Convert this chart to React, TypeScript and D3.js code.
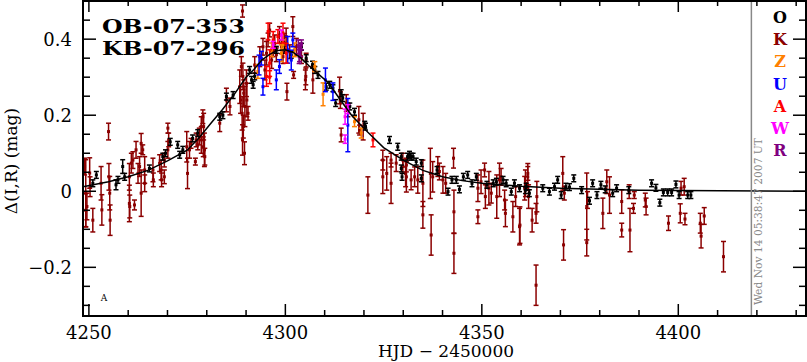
import { useMemo } from 'react';
import * as d3 from 'd3';

// [HJD - 2450000, delta mag, error]
const obsK: number[][] = [
  [4248.9, 0.065, 0.022], [4249.2, -0.005, 0.088], [4249.5, -0.04, 0.035], [4250.2, 0.048, 0.04],
  [4250.3, 0.012, 0.026], [4251, -0.076, 0.031], [4253.1, 0.021, 0.044], [4253.3, -0.049, 0.04],
  [4255, 0.157, 0.022], [4255.1, 0.038, 0.035], [4255.3, -0.005, 0.044], [4255.4, -0.076, 0.04],
  [4249.2, -0.05, 0.044], [4260.4, -0.04, 0.03],
  [4260.3, 0.038, 0.035], [4260.3, -0.032, 0.048], [4260.8, 0.074, 0.026], [4261.2, 0.082, 0.022],
  [4261.6, -0.036, 0.013], [4262, 0.109, 0.022], [4262.5, 0.047, 0.026], [4262.9, 0.065, 0.026],
  [4263.3, 0.126, 0.026], [4263.3, -0.005, 0.061], [4263.7, 0.109, 0.013], [4264.2, 0.056, 0.035],
  [4264.2, 0.021, 0.022], [4266.3, 0.056, 0.031], [4266.4, 0.03, 0.018], [4268, 0.074, 0.022],
  [4268.4, 0.056, 0.026], [4268.5, 0.03, 0.018], [4269.2, 0.082, 0.018], [4269.2, 0.038, 0.018],
  [4270.1, 0.166, 0.013], [4270.1, 0.109, 0.022], [4270.3, 0.135, 0.018], [4274.9, 0.117, 0.04],
  [4275.1, 0.047, 0.04], [4275.6, 0.109, 0.022], [4276, 0.126, 0.013], [4277.1, 0.078, 0.009],
  [4277.3, 0.135, 0.018], [4277.7, 0.122, 0.013], [4278.1, 0.144, 0.022], [4278.6, 0.17, 0.026],
  [4279, 0.196, 0.018], [4279.4, 0.109, 0.044], [4278.6, 0.135, 0.035], [4279.1, 0.117, 0.026],
  [4279.2, 0.17, 0.035], [4279.5, 0.091, 0.022], [4283.3, 0.179, 0.022], [4285, 0.24, 0.031],
  [4285.9, 0.223, 0.022], [4288.4, 0.275, 0.044], [4288.6, 0.24, 0.035], [4288.8, 0.328, 0.026],
  [4289, 0.205, 0.044], [4289.2, 0.302, 0.035], [4289.4, 0.258, 0.035], [4289.1, 0.135, 0.04],
  [4289.7, 0.223, 0.053], [4290.1, 0.284, 0.035], [4290.2, 0.24, 0.044], [4290.5, 0.205, 0.018],
  [4289.1, 0.474, 0.016], [4289.3, 0.17, 0.03], [4289.6, 0.1, 0.03],
  [4292.2, 0.332, 0.022], [4293.5, 0.354, 0.026], [4294.3, 0.38, 0.022], [4294.8, 0.319, 0.026],
  [4295.2, 0.363, 0.031], [4295.6, 0.398, 0.018], [4296, 0.424, 0.018], [4296.5, 0.345, 0.022],
  [4296.9, 0.372, 0.018], [4297.3, 0.389, 0.022], [4297.7, 0.359, 0.018], [4298.5, 0.411, 0.022],
  [4299, 0.38, 0.018], [4299.4, 0.354, 0.018], [4299.8, 0.389, 0.026], [4300.2, 0.407, 0.022],
  [4300.4, 0.262, 0.022], [4301.1, 0.367, 0.018], [4301.9, 0.433, 0.026], [4302.1, 0.306, 0.009],
  [4302.8, 0.38, 0.022], [4305.2, 0.302, 0.022], [4305.3, 0.345, 0.018], [4304.1, 0.354, 0.018],
  [4305.1, 0.293, 0.026], [4307, 0.293, 0.035], [4313.8, 0.265, 0.035], [4314, 0.24, 0.022],
  [4314.2, 0.148, 0.018], [4315.5, 0.232, 0.022], [4315.9, 0.214, 0.018], [4318.7, 0.188, 0.035],
  [4318.9, 0.161, 0.013], [4319.8, 0.17, 0.035], [4324.8, 0.082, 0.026], [4324.8, 0.038, 0.044],
  [4325.8, 0.047, 0.044], [4326.9, 0.021, 0.053], [4326.9, 0.082, 0.018], [4328.2, 0.074, 0.022],
  [4321, -0.01, 0.048], [4329.9, 0.065, 0.018], [4330.8, 0.038, 0.04],
  [4329.9, 0.082, 0.018], [4330.6, 0.047, 0.035], [4330.8, 0.069, 0.018], [4332, 0.03, 0.026],
  [4332.9, 0.038, 0.026], [4333.7, 0.03, 0.035], [4335, -0.062, 0.035], [4335, 0.021, 0.061],
  [4336.9, 0.047, 0.066], [4337.1, -0.115, 0.053], [4337.5, 0.038, 0.04], [4338.8, 0.065, 0.026],
  [4339.2, 0.052, 0.022], [4340.1, 0.03, 0.035], [4340.8, 0.021, 0.026], [4342.8, 0.087, 0.026],
  [4342.9, -0.054, 0.057], [4342.9, -0.163, 0.053], [4349, 0.008, 0.035], [4349, -0.067, 0.018],
  [4349.8, 0.025, 0.031], [4350.7, 0.056, 0.018], [4350.9, -0.014, 0.031], [4351.8, 0.008, 0.044],
  [4352.4, -0.005, 0.026], [4353.8, -0.014, 0.057], [4354.5, 0.03, 0.044], [4354.9, 0.038, 0.022],
  [4355.8, -0.023, 0.026], [4356, -0.058, 0.035], [4357.9, -0.067, 0.04], [4358.6, -0.014, 0.026],
  [4359.7, -0.089, 0.048], [4361.1, 0.021, 0.035], [4361.7, 0.038, 0.035], [4361.9, -0.014, 0.031],
  [4359.6, -0.093, 0.048], [4360.9, 0.008, 0.031], [4361.7, 0.047, 0.018], [4362.8, -0.076, 0.031],
  [4363.8, -0.058, 0.026], [4363.8, -0.247, 0.053], [4364, -0.014, 0.04], [4370.6, 0.047, 0.044],
  [4370.8, -0.141, 0.04], [4371, -0.005, 0.018], [4376.7, -0.04, 0.088], [4376.7, -0.135, 0.035],
  [4376.9, -0.023, 0.022], [4380.8, -0.058, 0.04], [4381.8, 0.025, 0.031], [4382.5, -0.01, 0.048],
  [4385.6, -0.027, 0.031], [4385.6, -0.102, 0.018], [4387.7, -0.102, 0.057], [4387.5, -0.001, 0.018],
  [4388.6, -0.045, 0.013], [4388.8, -0.01, 0.009], [4391.6, -0.023, 0.018], [4391.8, -0.04, 0.022],
  [4397.5, -0.084, 0.019], [4400.5, -0.058, 0.025], [4400.7, 0.008, 0.018], [4401.5, 0.012, 0.022],
  [4401.7, -0.073, 0.015], [4405.6, -0.084, 0.026], [4405.8, -0.118, 0.031], [4406.6, -0.065, 0.022],
  [4411.5, -0.172, 0.04],
];

const obsO: number[][] = [
  [4251.9, 0.043, 0.009], [4251, 0.021, 0.009], [4256.9, 0.017, 0.013], [4257.4, 0.03, 0.009],
  [4258.6, 0.065, 0.018], [4259.1, 0.038, 0.009], [4265.4, 0.06, 0.009], [4268.8, 0.091, 0.009],
  [4269.5, 0.1, 0.009], [4270.7, 0.13, 0.009], [4272.6, 0.122, 0.009], [4273.1, 0.096, 0.009],
  [4273.9, 0.109, 0.009], [4276.4, 0.139, 0.009], [4277.7, 0.153, 0.009], [4285, 0.249, 0.009],
  [4284.1, 0.2, 0.009], [4283.3, 0.196, 0.009], [4286.7, 0.253, 0.009], [4290.9, 0.319, 0.009],
  [4291.4, 0.293, 0.009], [4291.8, 0.28, 0.009], [4292.2, 0.302, 0.009], [4297.7, 0.372, 0.009],
  [4299.8, 0.372, 0.009], [4301.5, 0.359, 0.009], [4304.1, 0.38, 0.009], [4305.3, 0.35, 0.009],
  [4306.9, 0.333, 0.009], [4307.5, 0.319, 0.009], [4308.3, 0.306, 0.009], [4311.3, 0.28, 0.009],
  [4310.4, 0.275, 0.009], [4312.1, 0.271, 0.009], [4314.2, 0.258, 0.009], [4314.6, 0.245, 0.009],
  [4312.8, 0.232, 0.009], [4316.4, 0.223, 0.009], [4317.6, 0.209, 0.009], [4320.2, 0.175, 0.009],
  [4320.4, 0.17, 0.009], [4326.5, 0.135, 0.009], [4328.6, 0.117, 0.009], [4329.5, 0.091, 0.009],
  [4331.1, 0.091, 0.009], [4332, 0.091, 0.009], [4333.3, 0.078, 0.009], [4334.6, 0.074, 0.009],
  [4329.5, 0.06, 0.009], [4329.7, 0.038, 0.009], [4331.6, 0.096, 0.009], [4332.5, 0.091, 0.009],
  [4334.6, 0.034, 0.009], [4338.6, 0.056, 0.009], [4341.4, -0.001, 0.009], [4342.4, 0.03, 0.009],
  [4343.5, 0.03, 0.009], [4344.3, 0.005, 0.009], [4345.3, 0.038, 0.009], [4346.4, 0.043, 0.009],
  [4347.5, 0.021, 0.009], [4348.6, 0.038, 0.009], [4351.3, 0.017, 0.009], [4352.9, 0.021, 0.009],
  [4353.7, 0.025, 0.009], [4355.4, 0.03, 0.009], [4356.2, 0.021, 0.009], [4357.5, -0.001, 0.009],
  [4358.3, 0.021, 0.009], [4359.6, 0.008, 0.009], [4361.1, 0.003, 0.009], [4361.3, 0.012, 0.009],
  [4362.1, -0.005, 0.009], [4365.5, 0.008, 0.009], [4367.2, -0.001, 0.009], [4368.5, 0.012, 0.009],
  [4369.3, 0.03, 0.009], [4370.2, -0.01, 0.009], [4371.4, 0.012, 0.009], [4372.3, 0.011, 0.009],
  [4373.4, 0.034, 0.009], [4375.4, 0.003, 0.009], [4377.4, -0.025, 0.009], [4378.2, 0.021, 0.009],
  [4379.3, -0.01, 0.009], [4380.3, 0.017, 0.009], [4381.4, 0.005, 0.009], [4383.3, -0.005, 0.009],
  [4384.3, 0.008, 0.009], [4387.4, 0.003, 0.009], [4393.2, 0.021, 0.009], [4394.3, 0.009, 0.009],
  [4395.3, -0.03, 0.009], [4396.2, -0.003, 0.009], [4397.3, -0.003, 0.009], [4398.3, -0.003, 0.009],
  [4399.4, 0.018, 0.009], [4400.2, -0.01, 0.009], [4402.4, -0.01, 0.009], [4403.2, -0.01, 0.009],
];

const obsZ: number[][] = [
  [4293, 0.315, 0.018], [4296.5, 0.372, 0.018], [4299, 0.363, 0.022], [4302.3, 0.372, 0.018],
  [4299.4, 0.385, 0.013], [4307.5, 0.328, 0.013], [4309.6, 0.255, 0.03], [4317.6, 0.183, 0.013],
  [4319.3, 0.153, 0.013],
];

const obsU: number[][] = [
  [4293.3, 0.332, 0.026], [4294.3, 0.275, 0.022], [4293.9, 0.35, 0.018], [4297.7, 0.293, 0.026],
  [4298.5, 0.328, 0.018], [4300.6, 0.372, 0.035], [4301.9, 0.398, 0.018], [4301.5, 0.345, 0.026],
  [4310.2, 0.293, 0.031], [4312.1, 0.262, 0.023], [4315.9, 0.174, 0.07],
];

const obsA: number[][] = [
  [4295.2, 0.302, 0.026], [4296, 0.337, 0.035], [4296.9, 0.398, 0.022], [4298.1, 0.407, 0.018],
  [4300.2, 0.363, 0.026], [4296, 0.3, 0.017], [4295.6, 0.42, 0.022], [4299.4, 0.416, 0.026],
  [4322.3, 0.135, 0.018],
];

const obsW: number[][] = [
  [4299, 0.411, 0.013], [4296.9, 0.385, 0.009], [4315.2, 0.196, 0.02], [4315.2, 0.137, 0.011],
  [4315.9, 0.216, 0.012],
];

const obsR: number[][] = [
  [4303.3, 0.38, 0.018], [4303.6, 0.363, 0.022], [4303.9, 0.372, 0.018], [4303.5, 0.354, 0.018],
  [4304.1, 0.385, 0.013],
];

// model curve
const model: number[][] = [
  [4248.5, 0.012], [4255, 0.025], [4260, 0.038], [4265, 0.055], [4270, 0.08], [4275, 0.108],
  [4278, 0.14], [4281, 0.178], [4284, 0.215], [4287, 0.255], [4290, 0.3], [4292, 0.32],
  [4294, 0.345], [4296, 0.36], [4298, 0.37], [4300, 0.372], [4302, 0.365], [4304, 0.35],
  [4306, 0.33], [4308, 0.312], [4311, 0.285], [4314, 0.24], [4317, 0.198], [4321, 0.155],
  [4325, 0.115], [4330, 0.082], [4335, 0.055], [4340, 0.038], [4345, 0.028], [4350, 0.021],
  [4360, 0.013], [4370, 0.008], [4380, 0.005], [4390, 0.003], [4400, 0.002], [4432.5, 0],
];

const series = [
  { key: 'K', data: obsK, color: '#8b0000' },
  { key: 'O', data: obsO, color: '#000000' },
  { key: 'Z', data: obsZ, color: '#ff8000' },
  { key: 'U', data: obsU, color: '#0000ff' },
  { key: 'A', data: obsA, color: '#ff0000' },
  { key: 'W', data: obsW, color: '#ff00ff' },
  { key: 'R', data: obsR, color: '#800080' },
];
const legendOrder = ['O', 'K', 'Z', 'U', 'A', 'W', 'R'];

const xMajor = [4250, 4300, 4350, 4400];
const yMajor = [-0.2, 0, 0.2, 0.4];

const W = 807, H = 362;
const L = 83, R = 806, T = 0, B = 316;

export default function App() {
  const x = useMemo(() => d3.scaleLinear().domain([4248.5, 4432.5]).range([L, R]), []);
  const y = useMemo(() => d3.scaleLinear().domain([-0.328, 0.503]).range([B, T]), []);

  const xMinor = d3.range(4250, 4431, 10);
  const yMinor = d3.range(-0.3, 0.501, 0.05).map(v => Math.round(v * 100) / 100);

  const line = d3.line<number[]>().x(d => x(d[0])).y(d => y(d[1]));
  const fmtY = (v: number) => (v === 0 ? '0' : v < 0 ? '\u2212' + Math.abs(v).toFixed(1) : v.toFixed(1));
  const serif = '"DejaVu Serif", serif';

  return (
    <div style={{ position: 'fixed', left: 0, top: 0, background: '#fff' }}>
      <svg width={W} height={H} style={{ display: 'block' }}>
        <rect width={W} height={H} fill="#fff" />

        {/* error bars */}
        {series.map(s => (
          <g key={s.key} stroke={s.color} fill={s.color} strokeWidth={1.5}>
            {s.data.map((d, i) => {
              const cx = x(d[0]);
              const y0 = y(d[1] - d[2]);
              const y1 = y(d[1] + d[2]);
              return (
                <g key={i}>
                  <line x1={cx} x2={cx} y1={y0} y2={y1} />
                  <line x1={cx - 2.5} x2={cx + 2.5} y1={y0} y2={y0} />
                  <line x1={cx - 2.5} x2={cx + 2.5} y1={y1} y2={y1} />
                  <rect x={cx - 1.5} y={y(d[1]) - 1.5} width={3} height={3} stroke="none" />
                </g>
              );
            })}
          </g>
        ))}

        <path d={line(model) || ''} fill="none" stroke="#000" strokeWidth={1.5} />

        {/* separator + timestamp */}
        <line x1={x(4418.6)} x2={x(4418.6)} y1={T} y2={B} stroke="#888" strokeWidth={1.5} />
        <text
          transform={`translate(${x(4418.6) + 11},${305}) rotate(-90)`}
          fontFamily={serif}
          fontSize={11}
          fill="#888"
          textLength={167}
          lengthAdjust="spacingAndGlyphs"
        >
          Wed Nov 14 05:38:47 2007 UT
        </text>

        {/* frame */}
        <rect x={L} y={T + 1} width={R - L} height={B - T - 1} fill="none" stroke="#000" strokeWidth={2} />

        {/* x ticks */}
        {xMinor.map(v => {
          const major = xMajor.includes(v);
          const len = major ? 12 : 6;
          return (
            <g key={'x' + v} stroke="#000" strokeWidth={1.5}>
              <line x1={x(v)} x2={x(v)} y1={B} y2={B - len} />
              <line x1={x(v)} x2={x(v)} y1={T} y2={T + len} />
            </g>
          );
        })}
        {/* y ticks */}
        {yMinor.map(v => {
          const major = yMajor.some(m => Math.abs(m - v) < 1e-6);
          const len = major ? 13 : 7;
          return (
            <g key={'y' + v} stroke="#000" strokeWidth={1.5}>
              <line x1={L} x2={L + len} y1={y(v)} y2={y(v)} />
              <line x1={R} x2={R - len} y1={y(v)} y2={y(v)} />
            </g>
          );
        })}

        {xMajor.map(v => (
          <text key={'xl' + v} x={x(v)} y={339} textAnchor="middle" fontFamily={serif} fontSize={18}>
            {v}
          </text>
        ))}
        {yMajor.map(v => (
          <text key={'yl' + v} x={72} y={y(v) + 6.5} textAnchor="end" fontFamily={serif} fontSize={18}>
            {fmtY(v)}
          </text>
        ))}

        <text x={446} y={357} textAnchor="middle" fontFamily={serif} fontSize={17}>
          HJD {'\u2212'} 2450000
        </text>
        <text transform="translate(17,161) rotate(-90)" textAnchor="middle" fontFamily={serif} fontSize={17}>
          {'\u0394(I,R) (mag)'}
        </text>

        {/* event names */}
        <text x={102} y={33} fontFamily={serif} fontWeight="bold" fontSize={19} textLength={143} lengthAdjust="spacingAndGlyphs">
          OB-07-353
        </text>
        <text x={102} y={55} fontFamily={serif} fontWeight="bold" fontSize={19} textLength={143} lengthAdjust="spacingAndGlyphs">
          KB-07-296
        </text>

        <text x={104} y={301} textAnchor="middle" fontFamily={serif} fontSize={9}>
          A
        </text>

        {/* legend */}
        {legendOrder.map((k, i) => {
          const s = series.find(d => d.key === k)!;
          return (
            <text key={'lg' + k} x={780} y={23 + i * 22.2} textAnchor="middle" fontFamily={serif} fontWeight="bold" fontSize={16} fill={s.color}>
              {k}
            </text>
          );
        })}
      </svg>
    </div>
  );
}
